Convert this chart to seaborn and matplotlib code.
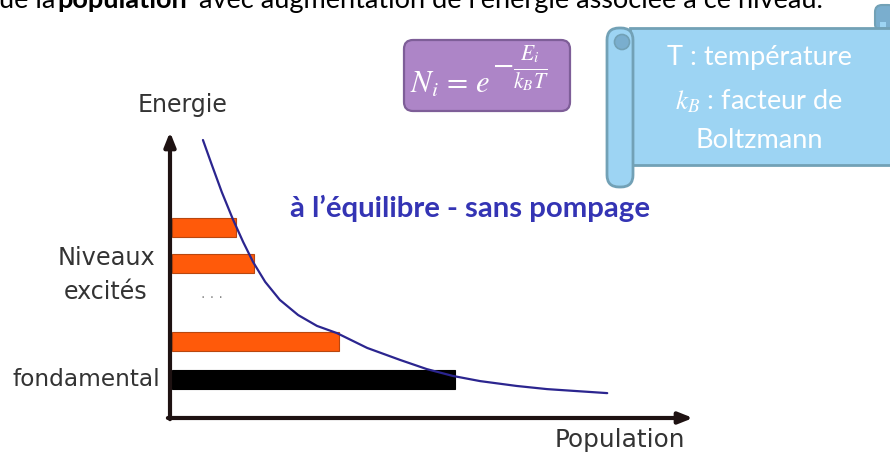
import numpy as np
import pandas as pd
import matplotlib
matplotlib.use("Agg")
import matplotlib.pyplot as plt
import seaborn as sns
from matplotlib.patches import FancyBboxPatch, Rectangle, Circle

# ---------------- data ----------------
level_names = ["excité 3", "excité 2", "excité n", "fondamental"]
level_energy = [66.6, 54.0, 26.7, 13.5]
level_population = [12.2, 15.7, 31.9, 54.1]
level_colors = ["#FF5A0A", "#FF5A0A", "#FF5A0A", "#000000"]
level_edges = ["#B8470F", "#B8470F", "#B8470F", "#000000"]

curve_population = [6.3, 8.0, 9.9, 12.0, 14.0, 15.9, 18.2, 21.0, 24.5, 28.1, 31.9,
                    37.7, 44.0, 49.1, 54.1, 59.3, 66.3, 72.1, 83.6]
curve_energy = [97.2, 88.5, 79.0, 69.6, 61.5, 54.5, 47.6, 41.3, 36.0, 32.2, 29.7,
                24.5, 20.3, 17.1, 14.7, 12.9, 11.2, 10.1, 8.7]

y_label = "Energie"
x_label = "Population"
label_excited = ["Niveaux", "excités"]
label_ground = "fondamental"
title_text = "à l\u2019équilibre - sans pompage"
top_parts = ["ue la ", "population", " avec augmentation de l\u2019énergie associée à ce niveau."]
formula_main = r"$N_i\,=\,e$"
formula_exp = r"$-\frac{E_i}{k_B T}$"
scroll_lines = ["T : température", r"$k_B$ : facteur de", "Boltzmann"]

# ---------------- style ----------------
sns.set_theme(style="white")
plt.rcParams["font.family"] = ["DejaVu Sans"]

W, H = 890, 454
fig = plt.figure(figsize=(W / 100, H / 100), dpi=100)
fig.patch.set_facecolor("white")

bg = fig.add_axes([0, 0, 1, 1], zorder=0)
bg.set_xlim(0, W)
bg.set_ylim(H, 0)
bg.axis("off")

renderer = fig.canvas.get_renderer()


def fit(t, target):
    w = t.get_window_extent(renderer=renderer).width
    t.set_fontsize(t.get_fontsize() * target / w)
    return t


# ---------------- chart ----------------
x0, x1, ytop, ybot = 170, 693, 132, 418
ax = fig.add_axes([x0 / W, (H - ybot) / H, (x1 - x0) / W, (ybot - ytop) / H], zorder=2)
ax.patch.set_alpha(0)
ax.set_xlim(0, 100)
ax.set_ylim(0, 100)
for s in ax.spines.values():
    s.set_visible(False)
ax.set_xticks([])
ax.set_yticks([])

ax.barh(level_energy, level_population, height=6.4, left=0.4,
        color=level_colors, edgecolor=level_edges, linewidth=0.8, zorder=2)

curve_df = pd.DataFrame({"pop": curve_population, "energy": curve_energy})
sns.lineplot(data=curve_df, x="pop", y="energy", sort=False, estimator=None,
             color="#2B258F", linewidth=1.6, ax=ax, zorder=3)
ax.lines[-1].set_solid_joinstyle("round")
ax.set_xlabel("")
ax.set_ylabel("")

axis_col = "#1E1212"
ax.annotate("", xy=(0, 1.0), xytext=(0, -0.004), xycoords="axes fraction",
            arrowprops=dict(arrowstyle="-|>,head_width=0.28,head_length=0.7",
                            lw=3.0, color=axis_col, shrinkA=0, shrinkB=0))
ax.annotate("", xy=(1.0, 0), xytext=(-0.004, 0), xycoords="axes fraction",
            arrowprops=dict(arrowstyle="-|>,head_width=0.28,head_length=0.7",
                            lw=3.0, color=axis_col, shrinkA=0, shrinkB=0))

lab_col = "#333333"
t = bg.text(183, 105, y_label, ha="center", va="center", color=lab_col, fontsize=15)
fit(t, 90)
t = bg.text(620, 440, x_label, ha="center", va="center", color=lab_col, fontsize=15)
fit(t, 130)
t = bg.text(106, 258, label_excited[0], ha="center", va="center", color=lab_col, fontsize=15)
fit(t, 98)
t = bg.text(106, 292, label_excited[1], ha="center", va="center", color=lab_col, fontsize=15)
fit(t, 84)
t = bg.text(86, 380, label_ground, ha="center", va="center", color=lab_col, fontsize=15)
fit(t, 148)
bg.text(212, 298, "· · ·", ha="center", va="center", color="#8A8A8A", fontsize=10)

t = bg.text(290, 208, title_text, ha="left", va="center", color="#3434B4",
            fontsize=17, fontweight="bold", family="Lato")
fit(t, 362)

# ---------------- top slide text ----------------
t1 = bg.text(-1, 8, top_parts[0], ha="left", va="baseline", family="Lato", fontsize=17, color="black")
t2 = bg.text(57, 8, top_parts[1], ha="left", va="baseline", family="Lato", fontsize=17,
             fontweight="bold", color="black")
fit(t2, 130)
t3 = bg.text(192, 8, top_parts[2], ha="left", va="baseline", family="Lato", fontsize=17, color="black")
fit(t3, 631)
t1.set_fontsize(t3.get_fontsize())

# ---------------- purple formula box ----------------
bg.add_patch(FancyBboxPatch((404, 40), 166, 71, boxstyle="round,pad=0,rounding_size=9",
                            facecolor="#AD85C7", edgecolor="#7E5E98", lw=1.6))
fm = bg.text(410, 93, formula_main, ha="left", va="baseline", color="white", fontsize=22,
             math_fontfamily="stix")
fit(fm, 80)
fe = bg.text(492, 69, formula_exp, ha="left", va="center", color="white", fontsize=20,
             math_fontfamily="stix")
fit(fe, 57)

# ---------------- blue scroll ----------------
fill = "#9DD4F3"
edge = "#72A1B6"
dark = "#7AAECE"
bg.add_patch(FancyBboxPatch((875, 5), 20, 26, boxstyle="round,pad=0,rounding_size=7",
                            facecolor=dark, edgecolor=edge, lw=1.5))
bg.add_patch(Rectangle((880, 22), 6, 5, facecolor=fill, edgecolor="none"))
bg.add_patch(Rectangle((630, 28), 270, 137, facecolor=fill, edgecolor=edge, lw=2))
bg.add_patch(FancyBboxPatch((607, 28), 26, 159, boxstyle="round,pad=0,rounding_size=12",
                            facecolor=fill, edgecolor=edge, lw=2))
bg.add_patch(Circle((622, 42), 7.5, facecolor=dark, edgecolor=edge, lw=1.2))

t = bg.text(759, 58, scroll_lines[0], ha="center", va="center", color="white",
            family="Lato", fontsize=16)
fit(t, 186)
bg.text(759, 101, scroll_lines[1], ha="center", va="center", color="white",
        family="Lato", fontsize=t.get_fontsize(), math_fontfamily="stix")
bg.text(759, 141, scroll_lines[2], ha="center", va="center", color="white",
        family="Lato", fontsize=t.get_fontsize())

fig.savefig("out.png", dpi=100)
